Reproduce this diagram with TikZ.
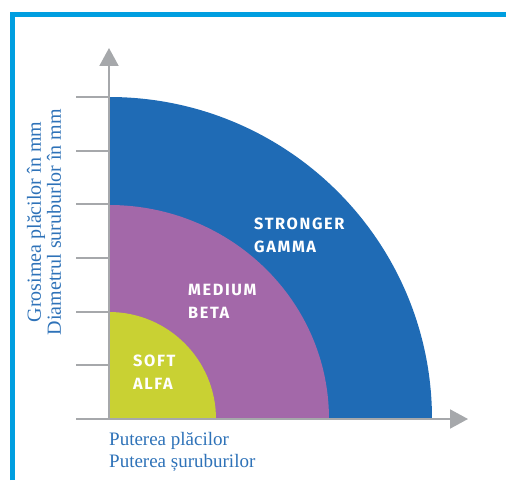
\documentclass[tikz,border=0pt]{standalone}
\usepackage{fontspec}
\setmainfont{Liberation Serif}
\newfontfamily\labelfont[LetterSpace=10]{Fira Sans}
\usetikzlibrary{arrows.meta, positioning}

\definecolor{framecyan}{HTML}{009EE0}
\definecolor{gammablue}{HTML}{1F6BB5}
\definecolor{betapurple}{HTML}{A368A9}
\definecolor{alfayellow}{HTML}{C9D133}
\definecolor{axisgray}{HTML}{A6A8AB}
\definecolor{captionblue}{HTML}{2E72B8}

\begin{document}
\begin{tikzpicture}[x=1pt, y=1pt]
        \tikzstyle{axis} = [draw=axisgray, line width=2pt]
        \tikzstyle{grade} = [text=white, font=\labelfont\bfseries\fontsize{16.3}{23}\selectfont, align=left, anchor=base west, inner sep=0pt]
        \tikzstyle{caption} = [text=captionblue, align=left, inner sep=0pt]

        \useasboundingbox (0,0) rectangle (506,480);

        % frame
        \draw [framecyan, line width=5pt] (12.5,0) -- (12.5,465.5) -- (506,465.5);

        % axes
        \coordinate (origin) at (109,61);
        \coordinate (xstart) at (76,61);
        \coordinate (xtip) at (468,61);
        \coordinate (ytip) at (109,432);

        % quarter discs
        \fill [gammablue] (origin) -- ++(323pt,0) arc [start angle=0, end angle=90, x radius=323pt, y radius=322pt] -- cycle;
        \fill [betapurple] (origin) -- ++(220pt,0) arc [start angle=0, end angle=90, x radius=220pt, y radius=214pt] -- cycle;
        \fill [alfayellow] (origin) -- ++(107pt,0) arc [start angle=0, end angle=90, radius=107pt] -- cycle;

        \foreach \i in {1,...,6}
            \draw [axis] (76,61+\i*53.67) -- (109,61+\i*53.67);
        \draw [axis, -{Triangle[width=19pt, length=18pt]}] (xstart) -- (xtip);
        \draw [axis, -{Triangle[width=19pt, length=18pt]}] (origin) -- (ytip);

        % grades (anchored at the baseline of the second line)
        \node (gamma) [grade] at (254,228) {STRONGER\\GAMMA};
        \node (beta) [grade] at (188,162) {MEDIUM\\BETA};
        \node (alfa) [grade] at (133,91) {SOFT\\ALFA};

        % captions
        \node (power) [caption, font=\fontsize{19}{22}\selectfont, anchor=base west] at (109,12.3) {Puterea plăcilor\\Puterea șuruburilor};
        \node (thickness) [caption, font=\fontsize{20}{20}\selectfont, align=center, rotate=90] at (44,258) {Grosimea plăcilor în mm\\Diametrul suruburlor în mm};
    \end{tikzpicture}
\end{document}
